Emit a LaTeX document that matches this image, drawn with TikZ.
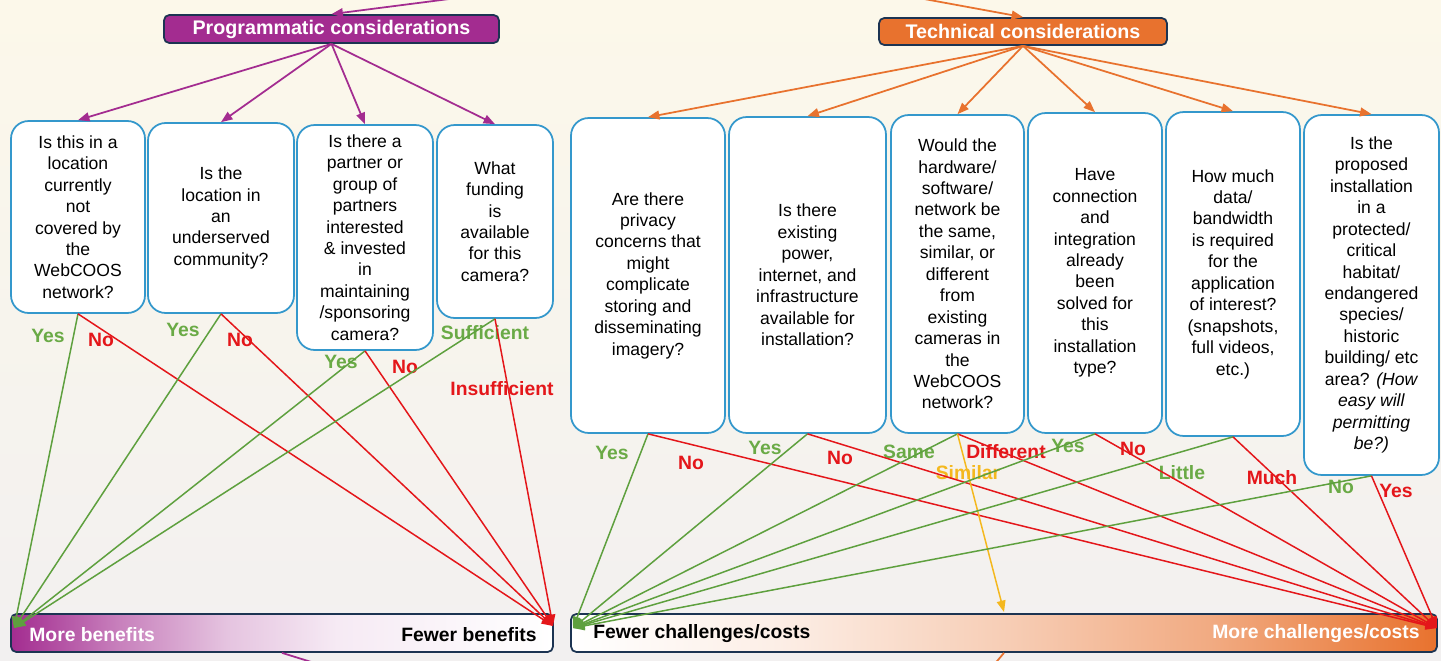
\documentclass[tikz,border=0pt]{standalone}
\usepackage{fontspec}
\setmainfont{Liberation Sans}
\usetikzlibrary{arrows.meta}
\definecolor{ProgClr}{RGB}{163,44,144}
\definecolor{TechClr}{RGB}{232,114,46}
\definecolor{EdgeClr}{RGB}{28,52,82}
\definecolor{BoxClr}{RGB}{52,152,204}
\definecolor{YesClr}{RGB}{94,160,62}
\definecolor{YesTxt}{RGB}{106,170,70}
\definecolor{NoClr}{RGB}{228,22,26}
\definecolor{MidClr}{RGB}{244,184,30}
\definecolor{BgTop}{RGB}{252,248,234}
\definecolor{BgMid}{RGB}{236,234,230}
\definecolor{BgBot}{RGB}{242,240,240}
\pgfdeclarehorizontalshading{benefitbar}{100bp}{color(0bp)=(ProgClr); color(25bp)=(ProgClr); color(35bp)=(ProgClr!60!white); color(45bp)=(ProgClr!28!white); color(55bp)=(ProgClr!10!white); color(75bp)=(white); color(100bp)=(white)}
\pgfdeclarehorizontalshading{costbar}{100bp}{color(0bp)=(white); color(25bp)=(white); color(37bp)=(TechClr!12!white); color(50bp)=(TechClr!35!white); color(62bp)=(TechClr!60!white); color(75bp)=(TechClr); color(100bp)=(TechClr)}

\begin{document}
\begin{tikzpicture}[x=0.02cm,y=-0.02cm,
  >={Triangle[length=6.5pt,width=5pt]},
  head/.style={draw=EdgeClr,line width=1pt,rounded corners=3pt,text=white,
    font=\bfseries\fontsize{11.2}{13}\selectfont,inner sep=0pt},
  qbox/.style={draw=BoxClr,fill=white,line width=1pt,rounded corners=10pt,
    align=center,font=\fontsize{10}{12.2}\selectfont,inner sep=0pt},
  bar/.style={draw=EdgeClr,line width=1pt,rounded corners=3pt,
    minimum height=0.76cm,inner sep=0pt},
  bartxt/.style={font=\bfseries\fontsize{11}{13}\selectfont,inner sep=0pt},
  lbl/.style={font=\bfseries\fontsize{11}{13}\selectfont,inner sep=0pt},
  yeslbl/.style={lbl,text=YesTxt},
  nolbl/.style={lbl,text=NoClr},
  midlbl/.style={lbl,text=MidClr},
  progarr/.style={->,draw=ProgClr,line width=1pt},
  techarr/.style={->,draw=TechClr,line width=1pt},
  yesarr/.style={->,draw=YesClr,line width=.85pt},
  noarr/.style={->,draw=NoClr,line width=.85pt},
  midarr/.style={->,draw=MidClr,line width=.85pt}]

\clip (0,0) rectangle (1441,660);
\fill[top color=BgTop,middle color=BgMid,bottom color=BgBot] (0,0) rectangle (1441,660);

% headers
\node[head,fill=ProgClr,minimum width=6.7cm,minimum height=0.56cm] (pc) at (331.5,29) {Programmatic considerations};
\node[head,fill=TechClr,minimum width=5.76cm,minimum height=0.54cm] (tc) at (1023,31.5) {Technical considerations};

% programmatic questions
\node[qbox,minimum width=2.68cm,minimum height=3.84cm] (p1) at (78,217)
  {Is this in a\\location\\currently\\not\\covered by\\the\\WebCOOS\\network?};
\node[qbox,minimum width=2.92cm,minimum height=3.80cm] (p2) at (221,218)
  {Is the\\location in\\an\\underserved\\community?};
\node[qbox,minimum width=2.72cm,minimum height=4.50cm] (p3) at (365,237.5)
  {Is there a\\partner or\\group of\\partners\\interested\\\& invested\\in\\maintaining\\/sponsoring\\camera?};
\node[qbox,minimum width=2.32cm,minimum height=3.86cm] (p4) at (495,221.5)
  {What\\funding\\is\\available\\for this\\camera?};

% technical questions
\node[qbox,minimum width=3.08cm,minimum height=6.30cm] (t1) at (648,275.5)
  {Are there\\privacy\\concerns that\\might\\complicate\\storing and\\disseminating\\imagery?};
\node[qbox,minimum width=3.14cm,minimum height=6.32cm] (t2) at (807.5,275)
  {Is there\\existing\\power,\\internet, and\\infrastructure\\available for\\installation?};
\node[qbox,minimum width=2.66cm,minimum height=6.36cm] (t3) at (957.5,274)
  {Would the\\hardware/\\software/\\network be\\the same,\\similar, or\\different\\from\\existing\\cameras in\\the\\WebCOOS\\network?};
\node[qbox,minimum width=2.68cm,minimum height=6.40cm] (t4) at (1095,273)
  {Have\\connection\\and\\integration\\already\\been\\solved for\\this\\installation\\type?};
\node[qbox,minimum width=2.68cm,minimum height=6.48cm] (t5) at (1233,274)
  {How much\\data/\\bandwidth\\is required\\for the\\application\\of interest?\\(snapshots,\\full videos,\\etc.)};
\node[qbox,minimum width=2.70cm,minimum height=7.20cm] (t6) at (1371.5,295)
  {Is the\\proposed\\installation\\in a\\protected/\\critical\\habitat/\\endangered\\species/\\historic\\building/ etc\\area? \textit{(How}\\\textit{easy will}\\\textit{permitting}\\\textit{be?)}};

% scales
\node[bar,shading=benefitbar,minimum width=10.84cm] (lb) at (282,633) {};
\node[bar,shading=costbar,minimum width=17.32cm] (rb) at (1004,633) {};
\node[bartxt,text=white,anchor=west] (lbmore) at (29,635) {More benefits};
\node[bartxt,anchor=east] (lbfew) at (537,635) {Fewer benefits};
\node[bartxt,anchor=west] (rbfew) at (593,634) {Fewer challenges/costs};
\node[bartxt,text=white,anchor=east] (rbmore) at (1420,634) {More challenges/costs};

\coordinate (lbyes) at (14,628);
\coordinate (lbno) at (553,626);
\coordinate (rbyes) at (573,628);
\coordinate (rbno) at (1437,628);
\coordinate (rbmid) at (1004,612);
\coordinate (inP) at (597,-20);
\coordinate (inT) at (837,-17);
\coordinate (outP) at (382,684);
\coordinate (outT) at (976,686);

% answers
\node[yeslbl] (a1y) at (48,336) {Yes};
\node[nolbl] (a1n) at (101,340) {No};
\node[yeslbl] (a2y) at (183,330) {Yes};
\node[nolbl] (a2n) at (240,340) {No};
\node[yeslbl] (a3y) at (341,362) {Yes};
\node[nolbl] (a3n) at (405,367) {No};
\node[yeslbl] (a4y) at (485,333) {Sufficient};
\node[nolbl] (a4n) at (502,389) {Insufficient};

\node[yeslbl] (b1y) at (612,453) {Yes};
\node[nolbl] (b1n) at (691,463) {No};
\node[yeslbl] (b2y) at (765,448) {Yes};
\node[nolbl] (b2n) at (840,458) {No};
\node[yeslbl] (b3y) at (909,452) {Same};
\node[nolbl] (b3n) at (1006,452) {Different};
\node[midlbl] (b3m) at (968,473) {Similar};
\node[yeslbl] (b4y) at (1068,446) {Yes};
\node[nolbl] (b4n) at (1133,449) {No};
\node[yeslbl] (b5y) at (1182,473) {Little};
\node[nolbl] (b5n) at (1272,478) {Much};
\node[yeslbl] (b6y) at (1341,487) {No};
\node[nolbl] (b6n) at (1396,491) {Yes};

% header arrows
\draw[progarr] (inP) -- (pc.north);
\draw[techarr] (inT) -- (tc.north);
\draw[draw=ProgClr,line width=1pt] (lb.south) -- (outP);
\draw[draw=TechClr,line width=1pt] (rb.south) -- (outT);

\draw[progarr] (pc.south) -- (p1.north);
\draw[progarr] (pc.south) -- (p2.north);
\draw[progarr] (pc.south) -- (p3.north);
\draw[progarr] (pc.south) -- (p4.north);

\draw[techarr] (tc.south) -- (t1.north);
\draw[techarr] (tc.south) -- (t2.north);
\draw[techarr] (tc.south) -- (t3.north);
\draw[techarr] (tc.south) -- (t4.north);
\draw[techarr] (tc.south) -- (t5.north);
\draw[techarr] (tc.south) -- (t6.north);

% decisions
\draw[yesarr] (p1.south) -- (lbyes);
\draw[noarr] (p1.south) -- (lbno);
\draw[yesarr] (p2.south) -- (lbyes);
\draw[noarr] (p2.south) -- (lbno);
\draw[yesarr] (p3.south) -- (lbyes);
\draw[noarr] (p3.south) -- (lbno);
\draw[yesarr] (p4.south) -- (lbyes);
\draw[noarr] (p4.south) -- (lbno);

\draw[yesarr] (t1.south) -- (rbyes);
\draw[noarr] (t1.south) -- (rbno);
\draw[yesarr] (t2.south) -- (rbyes);
\draw[noarr] (t2.south) -- (rbno);
\draw[yesarr] (t3.south) -- (rbyes);
\draw[noarr] (t3.south) -- (rbno);
\draw[midarr] (t3.south) -- (rbmid);
\draw[yesarr] (t4.south) -- (rbyes);
\draw[noarr] (t4.south) -- (rbno);
\draw[yesarr] (t5.south) -- (rbyes);
\draw[noarr] (t5.south) -- (rbno);
\draw[yesarr] (t6.south) -- (rbyes);
\draw[noarr] (t6.south) -- (rbno);

\end{tikzpicture}
\end{document}
